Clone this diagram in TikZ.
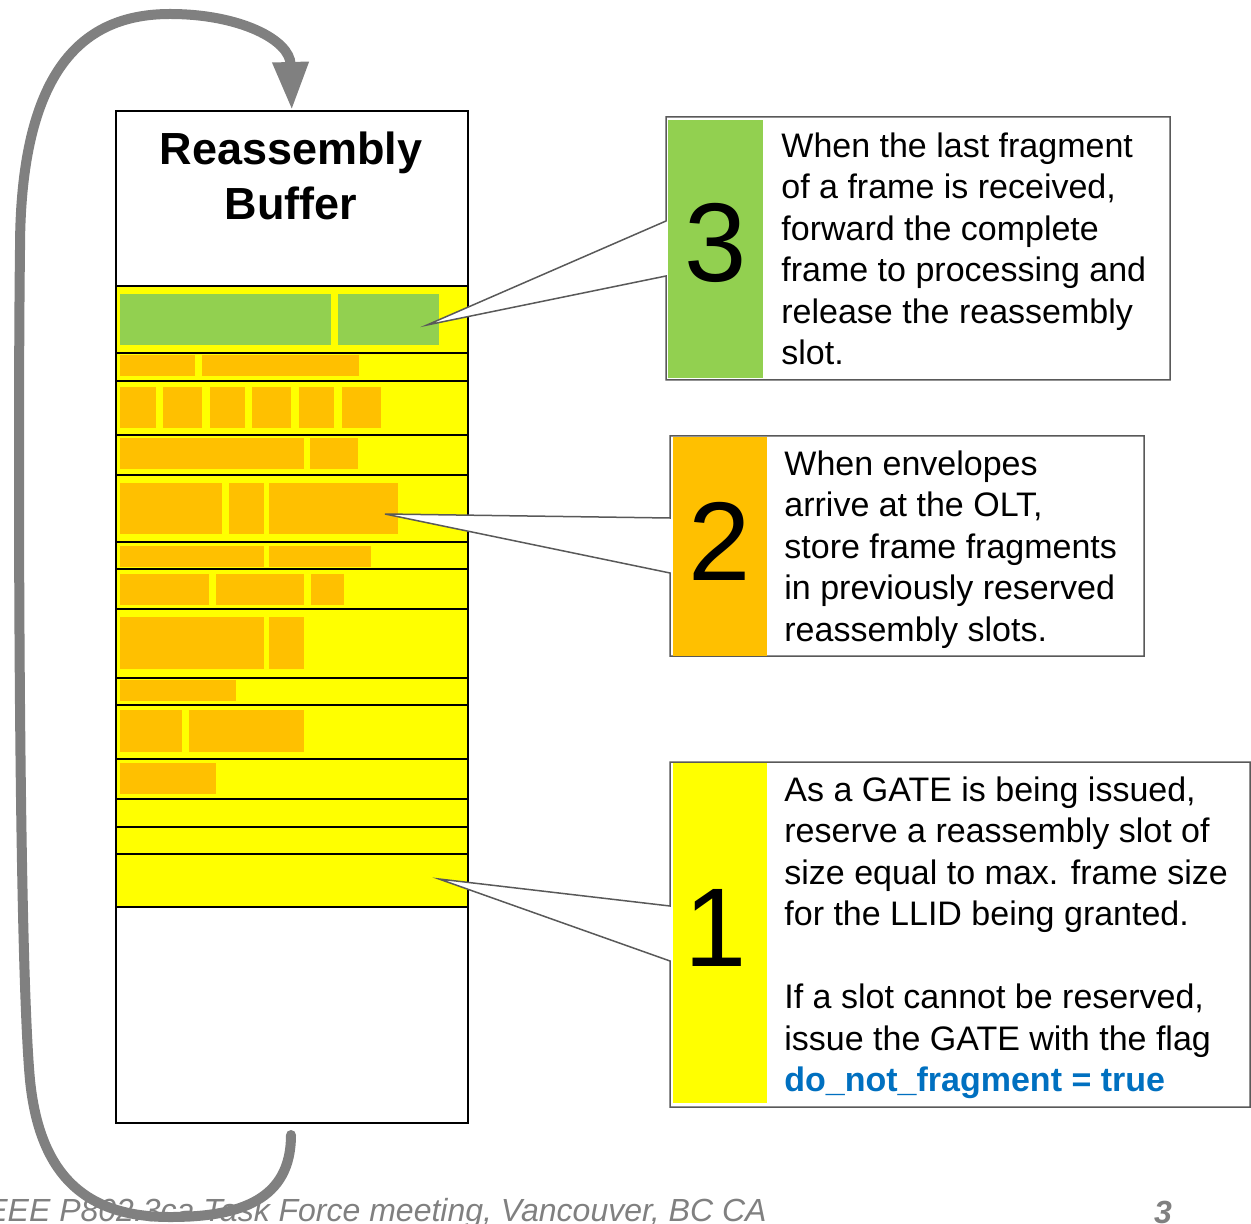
\documentclass[tikz,border=0pt]{standalone}
\usepackage{fontspec}
\setmainfont{Liberation Sans}
\usetikzlibrary{arrows.meta}
\definecolor{cgreen}{HTML}{92D050}
\definecolor{corange}{HTML}{FFC000}
\definecolor{cyellow}{HTML}{FFFF00}
\definecolor{cblue}{HTML}{0070C0}
\definecolor{cgray}{HTML}{808080}
\begin{document}
\begin{tikzpicture}[x=0.5pt,y=-0.5pt,
  rowline/.style={draw=black, line width=1pt},
  frag/.style={fill=corange},
  done/.style={fill=cgreen},
  callout/.style={draw=black!65, line width=0.75pt, fill=white, line join=miter},
  digit/.style={font=\fontsize{56}{60}\selectfont, inner sep=0pt},
  body/.style={font=\fontsize{17}{20.75}\selectfont, align=left, anchor=north west, inner sep=0pt},
  loopline/.style={draw=cgray, line width=5pt, line cap=round, -{Triangle[length=24pt,width=17pt]}},
  footer/.style={font=\fontsize{16}{18}\selectfont\itshape, text=cgray, inner sep=0pt}
]
\useasboundingbox (0,0) rectangle (1251,1224);
% buffer background
\fill[white] (115,110) rectangle (467,1122);
\fill[cyellow] (115,286) rectangle (467,907);
% completed frame (green)
\fill[done] (120,294) rectangle (331,345);
\fill[done] (338,294) rectangle (439,345);
% fragments
\fill[frag] (120,355) rectangle (195,376);
\fill[frag] (202,355) rectangle (359,376);
\fill[frag] (120,387) rectangle (156,428);
\fill[frag] (163,387) rectangle (202,428);
\fill[frag] (210,387) rectangle (245,428);
\fill[frag] (252,387) rectangle (291,428);
\fill[frag] (299,387) rectangle (334,428);
\fill[frag] (342,387) rectangle (381,428);
\fill[frag] (120,438) rectangle (304,469);
\fill[frag] (310,438) rectangle (358,469);
\fill[frag] (120,483) rectangle (222,534);
\fill[frag] (229,483) rectangle (264,534);
\fill[frag] (269,483) rectangle (398,534);
\fill[frag] (120,546) rectangle (264,567);
\fill[frag] (269,546) rectangle (371,567);
\fill[frag] (120,574) rectangle (209,605);
\fill[frag] (216,574) rectangle (304,605);
\fill[frag] (311,574) rectangle (344,605);
\fill[frag] (120,617) rectangle (264,669);
\fill[frag] (269,617) rectangle (304,669);
\fill[frag] (120,680) rectangle (236,701);
\fill[frag] (120,710) rectangle (182,752);
\fill[frag] (189,710) rectangle (304,752);
\fill[frag] (120,763) rectangle (216,794);
% row separators
\foreach \yy in {286,353,381,435,475,542,569,609,678,705,759,799,827,854,907}
  \draw[rowline] (115,\yy) -- (467,\yy);
% buffer outline and title
\node[draw=black, line width=0.8pt, minimum width=176pt, minimum height=506pt,
      inner sep=0pt, anchor=north west] (buf) at (115,110) {};
\node[font=\fontsize{22.5}{27.5}\selectfont\bfseries, align=center, inner sep=0pt,
      anchor=north] (title) at (291,131) {Reassembly\\Buffer};
% footer
\node[footer, anchor=base east] (foot) at (767,1221) {IEEE P802.3ca Task Force meeting, Vancouver, BC CA};
\node[footer, font=\fontsize{16}{18}\selectfont\bfseries\itshape, anchor=base] (pg) at (1163,1223) {3};
% loop arrow
\coordinate (tail) at (291,1135);
\draw[loopline] (tail) .. controls (291,1200) and (240,1217) .. (170,1217)
  .. controls (90,1217) and (40,1180) .. (30,1080)
  .. controls (18,950) and (18,400) .. (20,250)
  .. controls (20,60) and (90,14) .. (170,14)
  .. controls (240,14) and (290,40) .. (buf.north);
% callout 3
\coordinate (tip3) at (427,325);
\draw[callout] (666,117) -- (1170,117) -- (1170,380) -- (666,380) -- (666,276) -- (tip3) -- (666,221) -- cycle;
\fill[cgreen] (668,120) rectangle (763,378);
\node[digit] (d3) at (716,243) {3};
\node[body] (t3) at (781,132) {When the last fragment\\of a frame is received,\\forward the complete\\frame to processing and\\release the reassembly\\slot.};
% callout 2
\coordinate (tip2) at (385,514);
\draw[callout] (670,436) -- (1144,436) -- (1144,656) -- (670,656) -- (670,573) -- (tip2) -- (670,518) -- cycle;
\fill[corange] (673,437) rectangle (767,656);
\node[digit] (d2) at (720,541) {2};
\node[body] (t2) at (784,450) {When envelopes\\arrive at the OLT,\\store frame fragments\\in previously reserved\\reassembly slots.};
% callout 1
\coordinate (tip1) at (439,879);
\draw[callout] (670,762) -- (1250,762) -- (1250,1107) -- (670,1107) -- (670,961) -- (tip1) -- (670,906) -- cycle;
\fill[cyellow] (673,763) rectangle (767,1103);
\node[digit] (d1) at (716,928) {1};
\node[body] (t1) at (784,776) {As a GATE is being issued,\\reserve a reassembly slot of\\size equal to max. frame size\\for the LLID being granted.\\[20.75pt]If a slot cannot be reserved,\\issue the GATE with the flag\\{\bfseries\color{cblue}do\_not\_fragment = true}};
\end{tikzpicture}
\end{document}
